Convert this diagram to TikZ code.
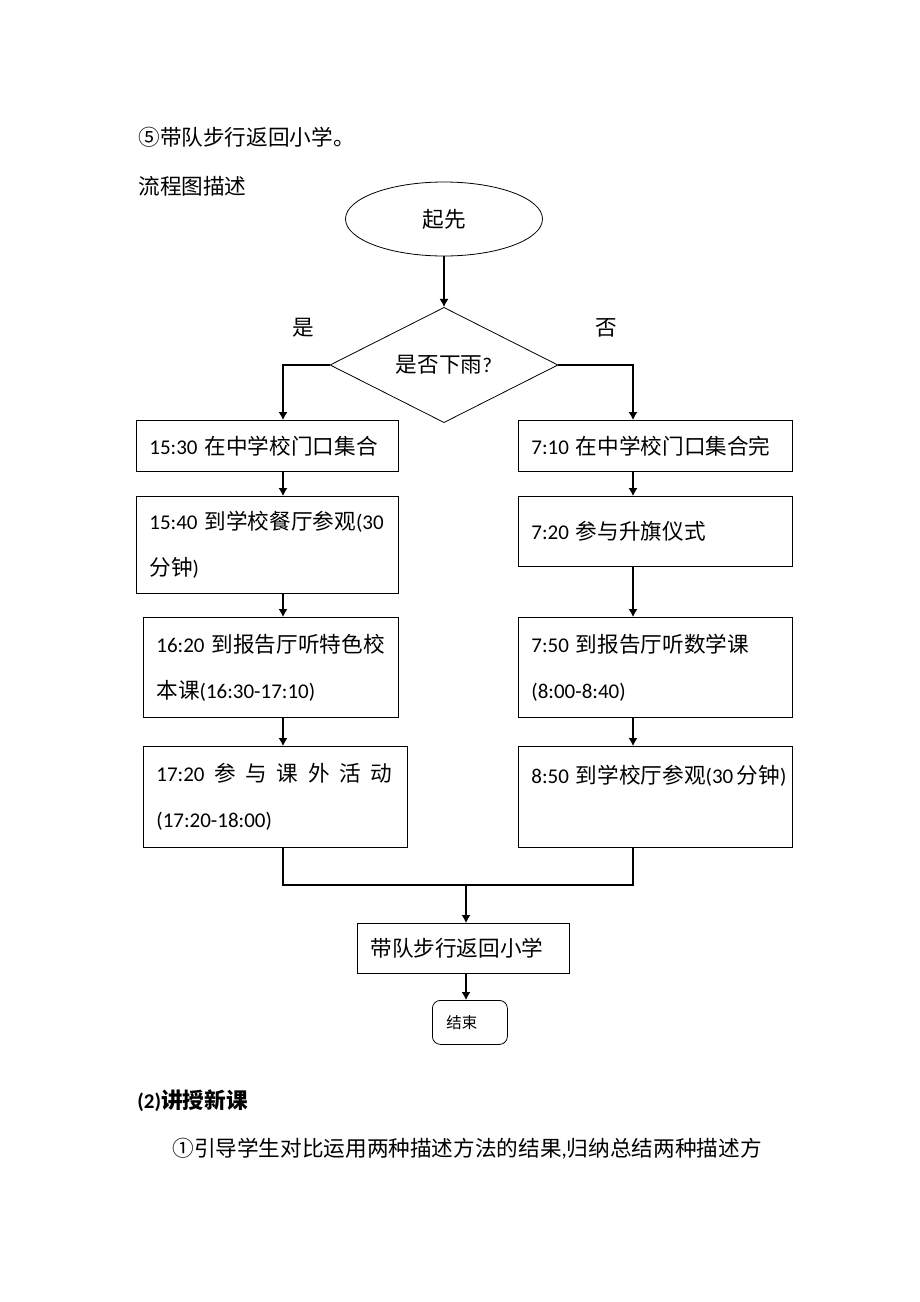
\documentclass[tikz,border=0pt]{standalone}
\usepackage{fontspec}
\setmainfont{Carlito}
\newfontfamily\cjk[Scale=1.03]{Noto Sans CJK SC}
\newcommand{\zh}[1]{{\cjk #1}}
\usetikzlibrary{arrows.meta,shapes.geometric}
\tikzset{%
	startstop/.style = {draw, ellipse, minimum width=98.5pt, minimum height=37pt}, % Start
	decision/.style  = {draw, diamond, minimum width=114pt, minimum height=55pt, inner sep=0pt},
	process/.style 2 args = {draw, rectangle, anchor=north west, align=left, inner xsep=6.5pt, inner ysep=0pt,
		text width=#1, minimum height=#2, font=\fontsize{10.5pt}{23pt}\selectfont},
	stopbox/.style   = {draw, rectangle, rounded corners=4pt, anchor=north west, align=left, inner xsep=7pt,
		inner ysep=0pt, text width=23.5pt, minimum height=22pt, font=\fontsize{7.5pt}{9pt}\selectfont}, % End
	txt/.style       = {anchor=west, inner sep=0pt, font=\fontsize{10.5pt}{13pt}\selectfont},
	arrow/.style     = {line width=0.6pt, -{Latex[length=4pt,width=4.5pt]}},
	line/.style      = {line width=0.6pt},
}

\begin{document}
\begin{tikzpicture}[x=0.5pt,y=-0.5pt]
	\fill[white] (0,0) rectangle (920,1302);
	\useasboundingbox (0,0) rectangle (920,1302);
	
	\node [txt] (step5) at (138,137) {\zh{⑤带队步行返回小学。}};
	\node [txt] (title) at (138,186) {\zh{流程图描述}};
	
	\node [startstop, font=\fontsize{10.5pt}{13pt}\selectfont] (start) at (444,219) {\zh{起先}};
	\node [decision, font=\fontsize{10.5pt}{13pt}\selectfont] (rain) at (444,365) {\zh{是否下雨}?};
	\node [txt] (yes) at (292,328) {\zh{是}};
	\node [txt] (no) at (595,328) {\zh{否}};
	
	% rainy day
	\node [process={118pt}{25.5pt}] (l1) at (136,420) {15:30~\zh{在中学校门口集合}};
	\node [process={118pt}{48.5pt}] (l2) at (136,496) {15:40~\zh{到学校餐厅参观}(30\\\zh{分钟})};
	\node [process={114.5pt}{50pt}] (l3) at (143,617) {16:20~\zh{到报告厅听特色校}\\\zh{本课}(16:30-17:10)};
	\node [process={119pt}{50.5pt}] (l4) at (143,746) {\hbox to 118pt{17:20\hfill\zh{参}\hfill\zh{与}\hfill\zh{课}\hfill\zh{外}\hfill\zh{活}\hfill\zh{动}}\\(17:20-18:00)};
	
	% fine day
	\node [process={124pt}{25.5pt}] (r1) at (518,420) {7:10~\zh{在中学校门口集合完}};
	\node [process={124pt}{35pt}] (r2) at (518,496) {7:20~\zh{参与升旗仪式}};
	\node [process={124pt}{50pt}] (r3) at (518,617) {7:50~\zh{到报告厅听数学课}\\(8:00-8:40)};
	\node [process={124pt}{50.5pt}] (r4) at (518,746) {8:50~\zh{到学校厅参观}(30\,\zh{分钟})\\\mbox{}};
	
	\node [process={93pt}{25pt}] (back) at (357,923) {\zh{带队步行返回小学}};
	\node [stopbox] (stop) at (432,1000) {\zh{结束}};
	
	\node [txt, font=\bfseries\fontsize{10.5pt}{13pt}\selectfont] (part2) at (137,1101) {(2)\zh{讲授新课}};
	\node [txt] (step1) at (172,1149) {\zh{①引导学生对比运用两种描述方法的结果},\zh{归纳总结两种描述方}};
	
	\coordinate (lcol) at (283,0);
	\coordinate (rcol) at (633,0);
	\coordinate (join) at (466,885);
	
	\draw[arrow] (start) -- (rain);
	\draw[arrow] (rain.west) -| (lcol |- l1.north);
	\draw[arrow] (rain.east) -| (rcol |- r1.north);
	\draw[arrow] (lcol |- l1.south) -- (lcol |- l2.north);
	\draw[arrow] (lcol |- l2.south) -- (lcol |- l3.north);
	\draw[arrow] (lcol |- l3.south) -- (lcol |- l4.north);
	\draw[arrow] (rcol |- r1.south) -- (rcol |- r2.north);
	\draw[arrow] (rcol |- r2.south) -- (rcol |- r3.north);
	\draw[arrow] (rcol |- r3.south) -- (rcol |- r4.north);
	\draw[line] (lcol |- l4.south) -- (lcol |- join) -- (rcol |- join) -- (rcol |- r4.south);
	\draw[arrow] (join) -- (join |- back.north);
	\draw[arrow] (join |- back.south) -- (join |- stop.north);
\end{tikzpicture}
\end{document}
